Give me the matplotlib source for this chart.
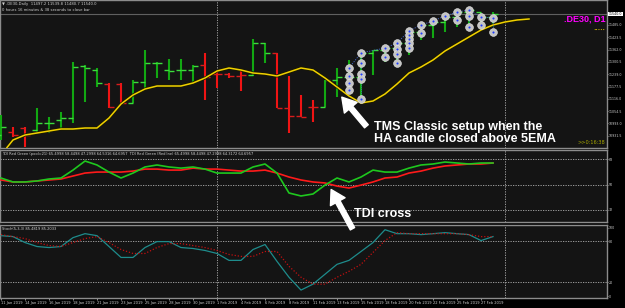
import numpy as np
import matplotlib.pyplot as plt
from matplotlib.transforms import blended_transform_factory

# --- data (DE30 daily, bar index 0 = 11 Jan 2019) ---
date_labels = ['11 Jan 2019', '14 Jan 2019', '16 Jan 2019', '18 Jan 2019', '21 Jan 2019',
               '23 Jan 2019', '25 Jan 2019', '28 Jan 2019', '30 Jan 2019', '1 Feb 2019',
               '4 Feb 2019', '6 Feb 2019', '8 Feb 2019', '11 Feb 2019', '13 Feb 2019',
               '15 Feb 2019', '18 Feb 2019', '20 Feb 2019', '22 Feb 2019', '25 Feb 2019',
               '27 Feb 2019']

highs = [11035, 10975, 10975, 11070, 11025, 11050, 11300, 11285, 11270, 11195, 11195,
         11210, 11360, 11300, 11315, 11315, 11285, 11345, 11260, 11245, 11265, 11415,
         11395, 11345, 11230, 11135, 11110, 11210, 11270, 11310, 11350, 11360, 11375,
         11400, 11460, 11495, 11510, 11535, 11560, 11570, 11545, 11550]
lows = [10910, 10925, 10875, 10945, 10945, 10970, 10995, 11100, 11175, 11070, 11095,
        11095, 11160, 11220, 11210, 11210, 11200, 11110, 11170, 11220, 11155, 11230,
        11295, 11070, 10945, 11025, 11000, 11075, 11125, 11145, 11100, 11235, 11300,
        11295, 11335, 11410, 11420, 11450, 11475, 11460, 11470, 11475]
opens = [10935, 10950, 10970, 10960, 10995, 11010, 11020, 11280, 11260, 11190, 11190,
         11095, 11200, 11295, 11260, 11260, 11260, 11285, 11240, 11240, 11230, 11235,
         11395, 11345, 11070, 11030, 11075, 11075, 11210, 11225, 11225, 11345, 11360,
         11370, 11395, 11450, 11485, 11500, 11525, 11550, 11550, 11525]
closes = [10975, 10935, 10935, 10995, 10995, 11020, 11275, 11270, 11195, 11075, 11095,
          11200, 11295, 11295, 11255, 11260, 11280, 11225, 11240, 11230, 11235, 11395,
          11345, 11070, 11030, 11025, 11075, 11210, 11225, 11225, 11345, 11360, 11370,
          11395, 11450, 11485, 11500, 11525, 11550, 11560, 11525, 11540]
ha_up = [1, 0, 0, 1, 1, 1, 1, 1, 1, 0, 0, 1, 1, 1, 1, 1, 1, 0, 0, 0, 0, 1, 1, 0, 0, 0,
         0, 1, 1, 1, 1, 1, 1, 1, 1, 1, 1, 1, 1, 1, 1, 1]

# 5 EMA, drawn shifted (runs 3 bars past the last candle)
ema5 = [10835, 10910, 10935, 10945, 10955, 10965, 10965, 10970, 10970, 11020, 11090,
        11135, 11165, 11180, 11180, 11180, 11195, 11220, 11255, 11270, 11260, 11245,
        11240, 11230, 11250, 11270, 11260, 11220, 11175, 11130, 11095, 11105, 11140,
        11190, 11245, 11275, 11310, 11355, 11390, 11425, 11460, 11485, 11500, 11510, 11515]

# signal dots (bar index, price)
dot_bars = [29, 30, 32, 33, 34, 35, 36, 37, 38, 39, 40, 41]
dot_prices = [[11270, 11230, 11195, 11160],
              [11345, 11295, 11240, 11215, 11115],
              [11370, 11325],
              [11395, 11365, 11340, 11295],
              [11455, 11435, 11415, 11395, 11370],
              [11485, 11445],
              [11505],
              [11530],
              [11550, 11510],
              [11560, 11530, 11475],
              [11525, 11485],
              [11520, 11450]]

tdi_green = [54.6, 51.8, 51.8, 52.5, 53.9, 54.6, 60.2, 66.6, 63.8, 58.8, 54.6, 58.1,
             62.4, 63.8, 62.4, 61.6, 62.4, 60.9, 58.1, 58.1, 58.1, 62.4, 64.5, 58.1,
             44.0, 41.9, 43.3, 49.6, 54.6, 51.8, 55.3, 60.2, 58.8, 58.8, 61.6, 63.8,
             64.5, 65.9, 65.2, 64.5, 65.2, 65.2]
tdi_red = [53.2, 51.8, 51.8, 52.5, 53.2, 53.9, 56.0, 58.1, 58.8, 58.8, 58.8, 59.5,
           60.9, 60.9, 60.2, 60.2, 61.6, 60.9, 60.9, 60.2, 59.5, 59.5, 60.2, 58.1,
           55.3, 53.2, 51.8, 51.1, 48.9, 47.5, 49.6, 51.8, 54.6, 55.3, 58.1, 59.5,
           61.6, 63.1, 63.8, 64.5, 64.5, 65.2]

stoch_main = [88.4, 87.0, 78.3, 72.5, 71.0, 72.5, 85.5, 91.3, 88.4, 72.5, 56.5, 56.5,
              71.0, 79.7, 79.7, 71.0, 69.6, 66.7, 62.3, 52.2, 52.2, 68.1, 75.4, 50.7,
              27.5, 8.7, 17.4, 31.9, 46.4, 52.2, 65.2, 78.3, 97.1, 91.3, 91.3, 89.9,
              91.3, 92.8, 91.3, 89.9, 81.2, 87.0]
stoch_signal = [89.9, 87.0, 84.1, 78.3, 73.9, 72.5, 78.3, 84.1, 87.0, 78.3, 68.1, 62.3,
                62.3, 71.0, 76.8, 76.8, 73.9, 71.0, 66.7, 60.9, 58.0, 58.0, 65.2, 65.2,
                43.5, 27.5, 17.4, 17.4, 27.5, 36.2, 46.4, 63.8, 81.2, 92.8, 91.3, 91.3,
                91.3, 91.3, 91.3, 89.9, 87.0, 87.0]

price_ticks = [11485.0, 11423.5, 11362.0, 11300.5, 11239.0, 11177.5, 11116.0, 11054.5,
               10993.0, 10931.5]
month_starts = [18, 42]

W, H = 625, 308
BG = '#141414'
FRAME = '#8c8c8c'
TXT = '#d0d0d0'
AXFONT = 2.3

fig = plt.figure(figsize=(W / 100, H / 100), dpi=100, facecolor='black')


def panel(top, bottom):
    ax = fig.add_axes([0, 1 - bottom / H, 607 / W, (bottom - top) / H])
    ax.set_facecolor(BG)
    ax.set_xlim(-1 / 12, 606 / 12)
    for s in ax.spines.values():
        s.set_color(FRAME)
        s.set_linewidth(1.0)
    ax.yaxis.tick_right()
    ax.tick_params(axis='y', colors=TXT, labelsize=AXFONT, length=1.0, width=0.5, pad=0.5)
    ax.tick_params(axis='x', bottom=False, labelbottom=False)
    for m in month_starts:
        ax.axvline(m, color='#b0b0b0', lw=0.6, ls=(0, (1.5, 1.5)), zorder=1)
    return ax


# ---------------- main price panel ----------------
ax = panel(0, 148)
ax.set_ylim(10870, 11610)
ax.set_yticks(price_ticks)
ax.set_yticklabels(['%.1f' % v for v in price_ticks])

x = np.arange(len(highs))
up = np.array(ha_up) == 1
ax.vlines(x[up], np.array(lows)[up], np.array(highs)[up], color='#12a812', lw=1.5, zorder=3)
ax.vlines(x[~up], np.array(lows)[~up], np.array(highs)[~up], color='#f01414', lw=1.5, zorder=3)
for i in x:
    c = '#3cdc3c' if up[i] else '#d81c1c'
    ax.hlines(opens[i], i - 0.45, i, color=c, lw=1.0, zorder=3)
    ax.hlines(closes[i], i, i + 0.45, color=c, lw=1.0, zorder=3)

ax.plot(np.arange(len(ema5)), ema5, color='#1a1a00', lw=2.2, zorder=4)
ax.plot(np.arange(len(ema5)), ema5, color='#f0d000', lw=1.1, zorder=5)

tops = [p[0] for p in dot_prices]
ax.plot(dot_bars, tops, color='#4a6ad0', lw=0.6, ls=(0, (1.5, 1.5)), zorder=5)
for b, ps in zip(dot_bars, dot_prices):
    ax.plot([b] * len(ps), ps, color='#4a6ad0', lw=0.5, ls=(0, (1.5, 1.5)), zorder=5)
    ax.plot([b] * len(ps), ps, 'o', ms=5.6, mfc='#c4c4c4', mec='#e8e8e8', mew=0.4, zorder=6)
    ax.plot([b] * len(ps), ps, 'o', ms=1.5, mfc='#1f3cff', mec='none', zorder=7)

# current price line and box
ax.axhline(closes[-1], color='#606060', lw=0.8, zorder=2)
tr = blended_transform_factory(ax.transAxes, ax.transData)
ax.text(1.003, closes[-1], '%.1f' % closes[-1], transform=tr, fontsize=AXFONT, color='black',
        va='center', ha='left', bbox=dict(boxstyle='square,pad=0.12', fc='white', ec='none'),
        clip_on=False)

ax.text(0.003, 0.985, '\u25bc .DE30,Daily  11497.2 11539.8 11480.7 11540.0', transform=ax.transAxes,
        fontsize=2.7, color=TXT, va='top')
ax.text(0.003, 0.945, '0 hours 16 minutes & 38 seconds to close bar', transform=ax.transAxes,
        fontsize=2.7, color=TXT, va='top')
ax.text(0.997, 0.87, '.DE30, D1', transform=ax.transAxes, fontsize=6.5, color='#ff00ff',
        fontweight='bold', ha='right', va='center', family='Liberation Sans')
ax.text(0.997, 0.79, '\u2022\u2022\u2022\u2022\u2022', transform=ax.transAxes, fontsize=3,
        color='#f0d000', ha='right', va='center')
ax.text(0.997, 0.02, '>>0:16:38', transform=ax.transAxes, fontsize=3.6, color='#a8a800',
        ha='right', va='bottom')

ax.annotate('', xy=(28.25, 11135), xytext=(30.6, 10968),
            arrowprops=dict(arrowstyle='simple,head_width=1.2,head_length=1.0,tail_width=0.35',
                            color='white', mutation_scale=10), annotation_clip=False, zorder=8)

# ---------------- TDI panel ----------------
ax2 = panel(150, 222)
ax2.set_zorder(3)
ax2.set_ylim(23.5, 74.4)
ax2.set_yticks([68, 50, 32])
ax2.set_yticklabels(['68', '50', '32'])
for lv in (68, 50, 32):
    ax2.axhline(lv, color='#b0b0b0', lw=0.6, ls=(0, (1.5, 1.5)), zorder=1)
ax2.plot(np.arange(len(tdi_red)), tdi_red, color='#ff1a1a', lw=1.2, zorder=3)
ax2.plot(np.arange(len(tdi_green)), tdi_green, color='#1ec81e', lw=1.2, zorder=4)
ax2.text(0.003, 0.97, 'TDI Red Green (pool=21) 65.4998 58.4498 47.2998 64.5316 64.6957  '
         'TDI Red Green (Redline) 65.4998 58.4498 47.2998 64.3172 64.6957',
         transform=ax2.transAxes, fontsize=2.6, color=TXT, va='top')
ax2.annotate('', xy=(27.4, 48.2), xytext=(29.4, 17.0),
             arrowprops=dict(arrowstyle='simple,head_width=1.2,head_length=1.0,tail_width=0.35',
                             color='white', mutation_scale=10), annotation_clip=False, zorder=8)

# ---------------- Stochastic panel ----------------
ax3 = panel(225, 298)
ax3.set_ylim(-2.9, 104)
ax3.set_yticks([100, 80, 20, 0])
ax3.set_yticklabels(['100', '80', '20', '0'])
for lv in (80, 20):
    ax3.axhline(lv, color='#b0b0b0', lw=0.6, ls=(0, (1.5, 1.5)), zorder=1)
ax3.plot(np.arange(len(stoch_main)), stoch_main, color='#1e8c8c', lw=0.9, zorder=3)
ax3.plot(np.arange(len(stoch_signal)), stoch_signal, color='#c01010', lw=0.9,
         ls=(0, (1, 1.5)), zorder=4)
ax3.text(0.003, 0.97, 'Stoch(5,3,3) 85.4819 85.2033', transform=ax3.transAxes,
         fontsize=2.6, color=TXT, va='top')
ax3.set_xticks(range(0, 2 * len(date_labels), 2))
ax3.set_xticklabels(date_labels)
ax3.tick_params(axis='x', bottom=True, labelbottom=True, colors=TXT, labelsize=2.6,
                length=1.5, width=0.5, pad=1)
for lab in ax3.get_xticklabels():
    lab.set_ha('left')

# callout texts
fig.text(374 / W, 1 - 133 / H, 'TMS Classic setup when the\nHA candle closed above 5EMA',
         color='white', fontsize=9, fontweight='bold', family='Liberation Sans',
         va='center', ha='left', linespacing=1.1)
fig.text(354 / W, 1 - 214 / H, 'TDI cross', color='white', fontsize=9, fontweight='bold',
         family='Liberation Sans', va='center', ha='left', zorder=10)

fig.savefig('out.png', dpi=100, facecolor='black')
